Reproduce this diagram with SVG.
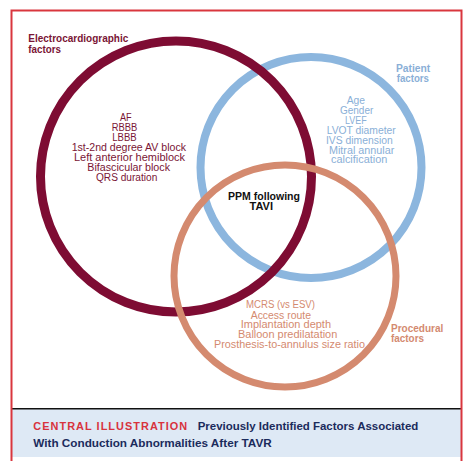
<svg xmlns="http://www.w3.org/2000/svg" width="467" height="461" viewBox="0 0 467 461">
<style>
.c{fill:none}
.t{font-family:"Liberation Sans",Arial,sans-serif;font-size:10px}
.b{font-weight:bold}
.h{font-family:"Liberation Sans",Arial,sans-serif;font-size:10px;font-weight:bold}
.ecg{fill:#7a1535}
.pat{fill:#8aafd7}
.pro{fill:#d48a70}
.cap{font-family:"Liberation Sans",Arial,sans-serif;font-size:10.5px;font-weight:bold}
</style>
<rect x="0" y="0" width="467" height="461" fill="#ffffff"/>
<g id="frame">
<rect x="12" y="409" width="449" height="48" fill="#dee9f5"/>
<line x1="12" y1="408.7" x2="461" y2="408.7" stroke="#111111" stroke-width="1.6"/>
<path d="M11.5 461 V10.5 H461.5 V461" fill="none" stroke="#d9363e" stroke-width="2"/>
</g>
<g id="connectors"></g>
<g id="patient-circle"><circle class="c" cx="311" cy="167.5" r="110.5" stroke="#8cb6de" stroke-width="8"/></g>
<g id="ecg-circle"><circle class="c" cx="176" cy="176.5" r="135.5" stroke="#7e0c33" stroke-width="9"/></g>
<g id="procedural-circle"><circle class="c" cx="285" cy="276" r="111" stroke="#d48a6f" stroke-width="7"/></g>
<g id="ecg-factors">
<text class="h ecg" x="28.3" y="42.3" textLength="100" lengthAdjust="spacingAndGlyphs">Electrocardiographic</text>
<text class="h ecg" x="28.3" y="52.6" textLength="32.7" lengthAdjust="spacingAndGlyphs">factors</text>
<text class="t ecg" x="120" y="120.7" textLength="11.7" lengthAdjust="spacingAndGlyphs">AF</text>
<text class="t ecg" x="111.7" y="130.7" textLength="25.6" lengthAdjust="spacingAndGlyphs">RBBB</text>
<text class="t ecg" x="112.3" y="140.7" textLength="24.4" lengthAdjust="spacingAndGlyphs">LBBB</text>
<text class="t ecg" x="71.7" y="150.7" textLength="114.3" lengthAdjust="spacingAndGlyphs">1st-2nd degree AV block</text>
<text class="t ecg" x="74" y="160.7" textLength="111" lengthAdjust="spacingAndGlyphs">Left anterior hemiblock</text>
<text class="t ecg" x="87.3" y="170.7" textLength="82.7" lengthAdjust="spacingAndGlyphs">Bifascicular block</text>
<text class="t ecg" x="96" y="180.7" textLength="61.3" lengthAdjust="spacingAndGlyphs">QRS duration</text>
</g>
<g id="patient-factors">
<text class="h pat" x="396" y="71.7" textLength="34.3" lengthAdjust="spacingAndGlyphs">Patient</text>
<text class="h pat" x="396.7" y="82" textLength="32.3" lengthAdjust="spacingAndGlyphs">factors</text>
<text class="t pat" x="346.7" y="103.8" textLength="18.3" lengthAdjust="spacingAndGlyphs">Age</text>
<text class="t pat" x="340" y="113.8" textLength="33.3" lengthAdjust="spacingAndGlyphs">Gender</text>
<text class="t pat" x="345" y="123.5" textLength="21.7" lengthAdjust="spacingAndGlyphs">LVEF</text>
<text class="t pat" x="326.7" y="133.5" textLength="69" lengthAdjust="spacingAndGlyphs">LVOT diameter</text>
<text class="t pat" x="326" y="143.5" textLength="66.7" lengthAdjust="spacingAndGlyphs">IVS dimension</text>
<text class="t pat" x="329" y="153.5" textLength="65.3" lengthAdjust="spacingAndGlyphs">Mitral annular</text>
<text class="t pat" x="331" y="163.3" textLength="56.3" lengthAdjust="spacingAndGlyphs">calcification</text>
</g>
<g id="center">
<text class="t b" x="228" y="200" textLength="72" lengthAdjust="spacingAndGlyphs" fill="#111111">PPM following</text>
<text class="t b" x="249.5" y="209.5" textLength="23.5" lengthAdjust="spacingAndGlyphs" fill="#111111">TAVI</text>
</g>
<g id="procedural-factors">
<text class="t pro" x="246" y="308.3" textLength="69" lengthAdjust="spacingAndGlyphs">MCRS (vs ESV)</text>
<text class="t pro" x="250.7" y="318.5" textLength="60.3" lengthAdjust="spacingAndGlyphs">Access route</text>
<text class="t pro" x="240.7" y="328.3" textLength="90.3" lengthAdjust="spacingAndGlyphs">Implantation depth</text>
<text class="t pro" x="238" y="338.3" textLength="99.3" lengthAdjust="spacingAndGlyphs">Balloon predilatation</text>
<text class="t pro" x="214" y="348.3" textLength="151" lengthAdjust="spacingAndGlyphs">Prosthesis-to-annulus size ratio</text>
<text class="h pro" x="391" y="331.7" textLength="52.3" lengthAdjust="spacingAndGlyphs">Procedural</text>
<text class="h pro" x="391" y="342" textLength="33" lengthAdjust="spacingAndGlyphs">factors</text>
</g>
<g id="caption">
<text class="cap" x="33.3" y="430" textLength="155" lengthAdjust="spacingAndGlyphs" fill="#d8333d" letter-spacing="1">CENTRAL ILLUSTRATION</text>
<text class="cap" x="197.7" y="430" textLength="220.6" lengthAdjust="spacingAndGlyphs" fill="#1b2b5c">Previously Identified Factors Associated</text>
<text class="cap" x="33.3" y="446.7" textLength="238.4" lengthAdjust="spacingAndGlyphs" fill="#1b2b5c">With Conduction Abnormalities After TAVR</text>
</g>
</svg>
